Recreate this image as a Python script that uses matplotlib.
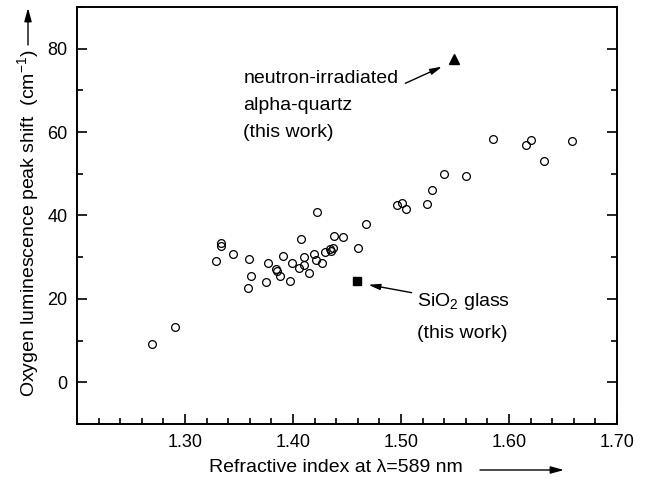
import matplotlib
matplotlib.use('Agg')
import matplotlib.pyplot as plt
from matplotlib.patches import FancyArrowPatch
from matplotlib.ticker import MultipleLocator, FormatStrFormatter

plt.rcParams['font.family'] = ['Liberation Sans', 'DejaVu Sans']
plt.rcParams['mathtext.fontset'] = 'custom'
plt.rcParams['mathtext.rm'] = 'Liberation Sans'
plt.rcParams['mathtext.it'] = 'Liberation Sans:italic'

# literature data: refractive index vs oxygen luminescence peak shift
n_index = [1.269, 1.291, 1.329, 1.333, 1.333, 1.344, 1.358, 1.359, 1.361, 1.375,
           1.377, 1.384, 1.385, 1.388, 1.391, 1.397, 1.399, 1.406, 1.407, 1.410,
           1.410, 1.415, 1.419, 1.421, 1.422, 1.427, 1.430, 1.434, 1.435, 1.437,
           1.438, 1.446, 1.460, 1.468, 1.496, 1.501, 1.505, 1.524, 1.529, 1.540,
           1.560, 1.585, 1.616, 1.620, 1.632, 1.658]
peak_shift = [9.2, 13.2, 29.1, 33.3, 32.7, 30.8, 22.5, 29.6, 25.5, 24.1,
              28.7, 27.1, 26.8, 25.5, 30.2, 24.4, 28.5, 27.3, 34.3, 30.0,
              28.2, 26.2, 30.8, 29.3, 40.8, 28.5, 31.2, 31.9, 31.6, 32.2,
              35.2, 34.8, 32.2, 38.0, 42.4, 42.9, 41.6, 42.8, 46.0, 49.9,
              49.5, 58.4, 56.8, 58.2, 53.1, 57.8]

# this work
quartz_n, quartz_shift = [1.549], [77.5]
glass_n, glass_shift = [1.459], [24.4]

x_ticks = [1.3, 1.4, 1.5, 1.6, 1.7]

fig = plt.figure(figsize=(6.47, 4.80), dpi=100, facecolor='white')
ax = fig.add_axes([77 / 647, 1 - 424 / 480, 540 / 647, 417 / 480])

ax.plot(n_index, peak_shift, 'o', ms=5.6, mfc='none', mec='black', mew=0.9)
ax.plot(quartz_n, quartz_shift, '^', ms=6.5, color='black')
ax.plot(glass_n, glass_shift, 's', ms=5.5, color='black')

ax.set_xlim(1.2, 1.7)
ax.set_ylim(-10, 90)
ax.set_xticks(x_ticks)
ax.xaxis.set_minor_locator(MultipleLocator(0.02))
ax.xaxis.set_major_formatter(FormatStrFormatter('%.2f'))
ax.yaxis.set_major_locator(MultipleLocator(20))
ax.yaxis.set_minor_locator(MultipleLocator(10))

ax.tick_params(which='both', direction='in', top=False, right=True,
               labelsize=13, width=1.2, pad=7)
ax.tick_params(which='major', length=7)
ax.tick_params(which='minor', length=4)
for s in ax.spines.values():
    s.set_linewidth(1.4)

# annotations
arrow_kw = dict(arrowstyle='-|>,head_length=0.7,head_width=0.18', lw=1.0, color='black',
                shrinkA=0, shrinkB=0)
ax.annotate('', xy=(1.538, 75.7), xytext=(1.504, 71.7), arrowprops=arrow_kw)
ax.text(1.354, 74.9, 'neutron-irradiated\nalpha-quartz\n(this work)', fontsize=14,
        ha='left', va='top', linespacing=1.78)
ax.annotate('', xy=(1.4697, 23.4), xytext=(1.5098, 21.5), arrowprops=arrow_kw)
ax.text(1.5145, 19.3, 'SiO$_2$ glass', fontsize=14, ha='left', va='center')
ax.text(1.5145, 11.6, '(this work)', fontsize=14, ha='left', va='center')

# axis labels with direction arrows
fig.text(336 / 647, 1 - 467 / 480, 'Refractive index at \u03bb=589 nm', fontsize=14,
         ha='center', va='center')
fig.text(28 / 647, 1 - 223 / 480, 'Oxygen luminescence peak shift  (cm$^{-1}$)',
         fontsize=14, ha='center', va='center', rotation=90)
for start, end in [((480, 470), (564, 470)), ((28, 45), (28, 8))]:
    fig.add_artist(FancyArrowPatch(
        (start[0] / 647, 1 - start[1] / 480), (end[0] / 647, 1 - end[1] / 480),
        transform=fig.transFigure, arrowstyle='-|>,head_length=0.8,head_width=0.22',
        mutation_scale=10, lw=1.0, color='black', shrinkA=0, shrinkB=0))

fig.savefig('out.png', dpi=100, facecolor='white')
